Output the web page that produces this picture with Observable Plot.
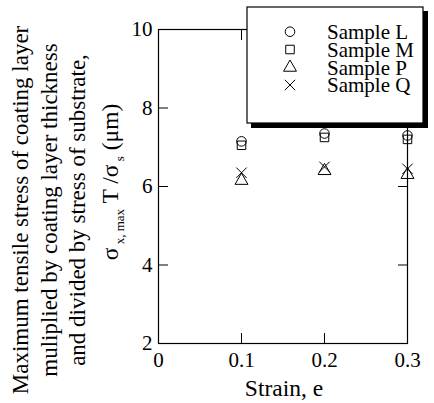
<!DOCTYPE html>
<html>
<head>
<meta charset="utf-8">
<script src="https://cdn.jsdelivr.net/npm/d3@7"></script>
<script src="https://cdn.jsdelivr.net/npm/@observablehq/plot@0.6"></script>
<style>
  html, body { margin: 0; padding: 0; background: #fff; }
  svg { display: block; }
</style>
</head>
<body>
<div id="chart"></div>
<script>
const strains = [0.1, 0.2, 0.3];
const samples = ["Sample L", "Sample M", "Sample P", "Sample Q"];
const sampleL = [7.15, 7.35, 7.3];
const sampleM = [7.05, 7.25, 7.2];
const sampleP = [6.15, 6.4, 6.3];
const sampleQ = [6.35, 6.5, 6.45];
const symbolNames = ["circle", "square", "triangle", "times"];
const xTicks = [0, 0.1, 0.2, 0.3];
const yTicks = [2, 4, 6, 8, 10];
const xLabel = "Strain, e";
const yLabelLines = [
  "Maximum tensile stress of coating layer",
  "muliplied by coating layer thickness",
  "and divided by stress of substrate,"
];

const seriesValues = [sampleL, sampleM, sampleP, sampleQ];
const rows = samples.flatMap((s, si) => strains.map((x, i) => ({sample: s, strain: x, value: seriesValues[si][i]})));

const FONT = "'Liberation Serif', 'Times New Roman', Times, serif";
const R = 4.8;

const chart = Plot.plot({
  width: 434,
  height: 403,
  marginLeft: 158,
  marginRight: 27,
  marginTop: 29,
  marginBottom: 60,
  style: {fontFamily: FONT, fontSize: "21px", color: "black", background: "white"},
  x: {domain: [0, 0.3]},
  y: {domain: [2, 10]},
  symbol: {domain: samples, range: symbolNames},
  marks: [
    Plot.frame({stroke: "black", strokeWidth: 1.2}),
    Plot.axisX({anchor: "bottom", ticks: xTicks, tickSize: -10, tickPadding: 19, tickFormat: d => String(d), label: null, fontSize: 21}),
    Plot.axisX({anchor: "top", ticks: xTicks, tickSize: -10, tickFormat: () => "", label: null}),
    Plot.axisY({anchor: "left", ticks: yTicks, tickSize: -10, tickPadding: 16, tickFormat: d => String(d), label: null, fontSize: 21}),
    Plot.axisY({anchor: "right", ticks: yTicks, tickSize: -10, tickFormat: () => "", label: null}),
    Plot.dot(rows, {x: "strain", y: "value", symbol: "sample", r: R, stroke: "black", fill: "none", strokeWidth: 1})
  ]
});

document.getElementById("chart").appendChild(chart);

const svg = d3.select(chart);

// X label
svg.append("text")
  .attr("x", 284).attr("y", 396)
  .attr("text-anchor", "middle")
  .attr("font-family", FONT).attr("font-size", 23.5)
  .attr("fill", "black")
  .text(xLabel);

// Y label lines
const baselines = [28, 57, 85];
yLabelLines.forEach((line, i) => {
  svg.append("text")
    .attr("transform", `translate(${baselines[i]},210) rotate(-90)`)
    .attr("text-anchor", "middle")
    .attr("font-family", FONT).attr("font-size", 23)
    .attr("fill", "black")
    .text(line);
});
const sym = svg.append("text")
  .attr("transform", `translate(118,182) rotate(-90)`)
  .attr("text-anchor", "middle")
  .attr("font-family", FONT).attr("font-size", 23.5)
  .attr("fill", "black");
sym.append("tspan").text("σ");
sym.append("tspan").attr("font-size", 13).attr("dy", 6).text(" x, max");
sym.append("tspan").attr("dy", -6).text(" T /σ");
sym.append("tspan").attr("font-size", 13).attr("dy", 6).text(" s");
sym.append("tspan").attr("dy", -6).text(" (μm)");

// Legend
const lg = svg.append("g");
lg.append("rect").attr("x", 251).attr("y", 11).attr("width", 177).attr("height", 117).attr("fill", "black");
lg.append("rect").attr("x", 247).attr("y", 7).attr("width", 176).attr("height", 116).attr("fill", "white").attr("stroke", "black").attr("stroke-width", 1.2);
const d3Symbols = {circle: d3.symbolCircle, square: d3.symbolSquare, triangle: d3.symbolTriangle, times: d3.symbolTimes};
const rowY = [31.7, 49.5, 67.5, 85];
samples.forEach((s, i) => {
  lg.append("path")
    .attr("transform", `translate(290,${rowY[i]})`)
    .attr("d", d3.symbol(d3Symbols[symbolNames[i]], R * R * Math.PI)())
    .attr("fill", "none").attr("stroke", "black").attr("stroke-width", 1);
  lg.append("text")
    .attr("x", 327).attr("y", rowY[i] + 7)
    .attr("text-anchor", "start")
    .attr("font-family", FONT).attr("font-size", 21)
    .attr("fill", "black")
    .text(s);
});
</script>
</body>
</html>
